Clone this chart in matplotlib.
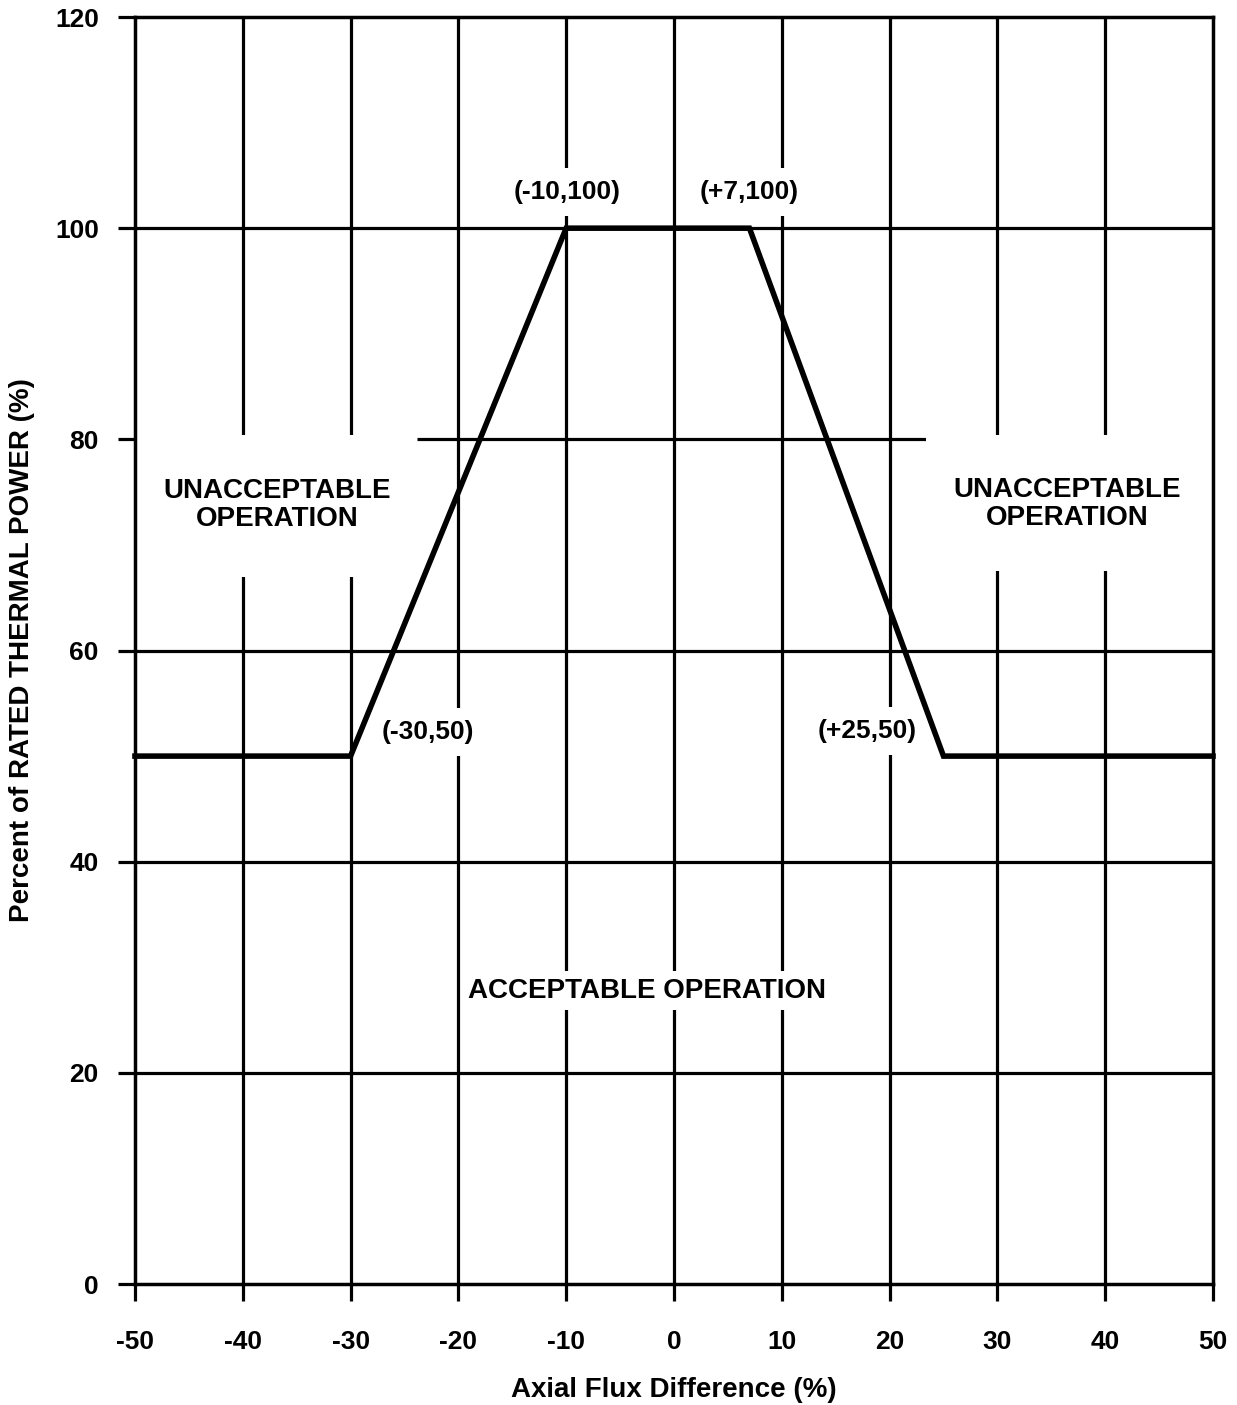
import matplotlib
matplotlib.use('Agg')
import matplotlib.pyplot as plt
from matplotlib import font_manager
from matplotlib.patches import Rectangle

# pick the regular-width Liberation Sans Bold (not the Narrow cut)
bold_file = None
for f in font_manager.fontManager.ttflist:
    if f.fname.endswith('LiberationSans-Bold.ttf'):
        bold_file = f.fname
if bold_file:
    fam = font_manager.FontProperties(fname=bold_file).get_name()
else:
    fam = 'DejaVu Sans'
plt.rcParams['font.family'] = [fam, 'DejaVu Sans']
plt.rcParams['font.weight'] = 'bold'


def fp(size):
    if bold_file:
        return font_manager.FontProperties(fname=bold_file, size=size)
    return font_manager.FontProperties(family='DejaVu Sans', weight='bold', size=size)


# limit line corners (axial flux difference %, rated thermal power %)
afd = [-50, -30, -10, 7, 25, 50]
power = [50, 50, 100, 100, 50, 50]

x_ticks = [-50, -40, -30, -20, -10, 0, 10, 20, 30, 40, 50]
y_ticks = [0, 20, 40, 60, 80, 100, 120]

corner_labels = ['(-30,50)', '(-10,100)', '(+7,100)', '(+25,50)']
corner_xy = [(-22.8, 52.3), (-9.9, 103.4), (7.0, 103.4), (17.9, 52.4)]

fig = plt.figure(figsize=(12.37, 14.05), dpi=100)
ax = fig.add_axes([0.1091, 0.0861, 0.8715, 0.9018])
ax.set_xlim(-50, 50)
ax.set_ylim(0, 120)

# grid
for x in x_ticks[1:-1]:
    ax.axvline(x, color='black', lw=2.3, zorder=1)
for y in [20, 40, 60, 100]:
    ax.axhline(y, color='black', lw=2.3, zorder=1)
ax.hlines(80, -23.8, 23.4, color='black', lw=2.3, zorder=1)

# white areas behind the region labels
ax.add_patch(Rectangle((-50, 67.0), 26.2, 13.4, fc='white', ec='none', zorder=2))
ax.add_patch(Rectangle((23.4, 67.5), 26.6, 12.9, fc='white', ec='none', zorder=2))

ax.text(-36.8, 73.8, 'UNACCEPTABLE\nOPERATION', ha='center', va='center',
        fontproperties=fp(20), linespacing=1.12, zorder=3)
ax.text(36.5, 73.9, 'UNACCEPTABLE\nOPERATION', ha='center', va='center',
        fontproperties=fp(20), linespacing=1.12, zorder=3)
ax.text(-2.5, 27.8, 'ACCEPTABLE OPERATION', ha='center', va='center',
        fontproperties=fp(20), zorder=3,
        bbox=dict(boxstyle='square,pad=0.22', fc='white', ec='none'))

for lab, (x, y) in zip(corner_labels, corner_xy):
    ax.text(x, y, lab, ha='center', va='center', fontproperties=fp(19),
            zorder=3, bbox=dict(boxstyle='square,pad=0.45', fc='white', ec='none'))

ax.plot(afd, power, color='black', lw=4, solid_joinstyle='miter', zorder=5,
        clip_on=False)

ax.set_xticks(x_ticks)
ax.set_xticklabels([str(v) for v in x_ticks])
ax.set_yticks(y_ticks)
ax.tick_params(axis='x', direction='out', length=12, width=2.3, pad=21)
ax.tick_params(axis='y', direction='out', length=12, width=2.3, pad=14)
for lab in ax.get_xticklabels() + ax.get_yticklabels():
    lab.set_fontproperties(fp(19))
for s in ax.spines.values():
    s.set_linewidth(2.5)
    s.set_zorder(4)

ax.set_xlabel('Axial Flux Difference (%)', fontproperties=fp(20))
ax.xaxis.set_label_coords(0.5, -0.073)
ax.set_ylabel('Percent of RATED THERMAL POWER (%)', fontproperties=fp(20))
ax.yaxis.set_label_coords(-0.093, 0.5)

fig.savefig('out.png', dpi=100)
